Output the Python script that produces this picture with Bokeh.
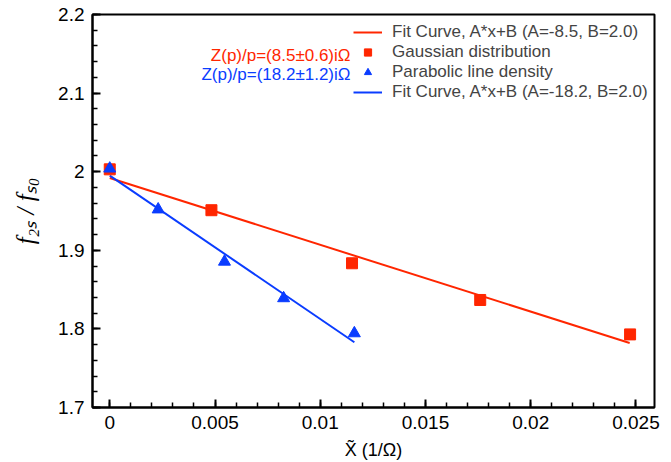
import numpy as np
from bokeh.plotting import figure
from bokeh.models import FixedTicker, Legend, LegendItem, Label, Range1d
from bokeh.embed import file_html
from bokeh.resources import INLINE

# data
gauss_x = [0.0, 0.00483, 0.01151, 0.0176, 0.02472]
gauss_y = [2.003, 1.951, 1.8835, 1.8368, 1.793]
para_x = [0.0, 0.0023, 0.00545, 0.00826, 0.01162]
para_y = [2.004, 1.952, 1.8855, 1.839, 1.7944]
fit_red_x = [0.0, 0.0247]
fit_red_y = [1.992, 1.782]
fit_blue_x = [0.0, 0.01162]
fit_blue_y = [1.995, 1.783]

x_ticks = [0, 0.005, 0.01, 0.015, 0.02, 0.025]
x_tick_labels = ["0", "0.005", "0.01", "0.015", "0.02", "0.025"]
y_ticks = [1.7, 1.8, 1.9, 2.0, 2.1, 2.2]
y_tick_labels = ["1.7", "1.8", "1.9", "2", "2.1", "2.2"]

legend_labels = ["Fit Curve, A*x+B (A=-8.5, B=2.0)", "Gaussian distribution",
                 "Parabolic line density", "Fit Curve, A*x+B (A=-18.2, B=2.0)"]
note_red = "Z(p)/p=(8.5\u00b10.6)i\u03a9"
note_blue = "Z(p)/p=(18.2\u00b11.2)i\u03a9"
x_label = "X\u0303 (1/\u03a9)"
y_label = "f\u2082\u209b / f\u209b\u2080"

RED = "#ff2600"
BLUE = "#0a3cff"
SANS = "Liberation Sans"
SERIF = "Liberation Serif"

p = figure(width=671, height=462, output_backend="svg", toolbar_location=None,
           x_range=Range1d(-0.00082, 0.02588), y_range=Range1d(1.7, 2.2),
           min_border_left=92, min_border_right=17, min_border_top=14, min_border_bottom=55)
p.grid.visible = False
p.outline_line_color = "black"
p.outline_line_width = 2
p.background_fill_color = "white"
p.border_fill_color = "white"

r_fit_red = p.line(fit_red_x, fit_red_y, line_color=RED, line_width=2)
r_fit_blue = p.line(fit_blue_x, fit_blue_y, line_color=BLUE, line_width=2)
r_gauss = p.scatter(gauss_x, gauss_y, marker="square", size=11, fill_color=RED, line_color=RED)
r_para = p.scatter(para_x, para_y, marker="triangle", size=12, fill_color=BLUE, line_color=BLUE)

x_minor = [round(v, 4) for v in np.arange(-0.0, 0.0255, 0.001)]
y_minor = [round(v, 3) for v in np.arange(1.7, 2.2001, 0.02)]
p.xaxis.ticker = FixedTicker(ticks=x_ticks, minor_ticks=x_minor)
p.yaxis.ticker = FixedTicker(ticks=y_ticks, minor_ticks=y_minor)
p.xaxis.major_label_overrides = {t: l for t, l in zip(x_ticks, x_tick_labels)}
p.yaxis.major_label_overrides = {t: l for t, l in zip(y_ticks, y_tick_labels)}

for ax in (p.xaxis, p.yaxis):
    ax.axis_line_width = 2
    ax.axis_line_color = "black"
    ax.major_tick_line_width = 2
    ax.minor_tick_line_width = 1.5
    ax.major_tick_out = 0
    ax.major_tick_in = 8
    ax.minor_tick_out = 0
    ax.minor_tick_in = 5
    ax.major_label_text_font = SANS
    ax.major_label_text_font_size = "19px"
    ax.major_label_text_color = "black"
    ax.major_label_standoff = 8
    ax.axis_label_text_color = "black"

p.yaxis.axis_label = y_label
p.yaxis.axis_label_text_font = SERIF
p.yaxis.axis_label_text_font_style = "italic"
p.yaxis.axis_label_text_font_size = "25px"
p.yaxis.axis_label_standoff = 16

p.xaxis.axis_label = x_label
p.xaxis.axis_label_text_font = SANS
p.xaxis.axis_label_text_font_style = "normal"
p.xaxis.axis_label_text_font_size = "18px"
p.xaxis.axis_label_standoff = 8

legend = Legend(items=[
    LegendItem(label=legend_labels[0], renderers=[r_fit_red]),
    LegendItem(label=legend_labels[1], renderers=[r_gauss]),
    LegendItem(label=legend_labels[2], renderers=[r_para]),
    LegendItem(label=legend_labels[3], renderers=[r_fit_blue]),
], location=(261, 305), padding=0, margin=0, border_line_color=None,
    background_fill_alpha=0, label_standoff=10, glyph_width=29, glyph_height=18,
    label_height=18, spacing=0, label_text_font=SANS, label_text_font_size="17px",
    label_text_line_height=1.1)
p.add_layout(legend)

p.add_layout(Label(x=258, y=352, x_units="screen", y_units="screen", text=note_red,
                   text_color=RED, text_font=SANS, text_font_size="17px",
                   text_align="right", text_baseline="middle"))
p.add_layout(Label(x=258, y=333, x_units="screen", y_units="screen", text=note_blue,
                   text_color=BLUE, text_font=SANS, text_font_size="17px",
                   text_align="right", text_baseline="middle"))

open("out.html", "w").write(file_html(p, INLINE))
